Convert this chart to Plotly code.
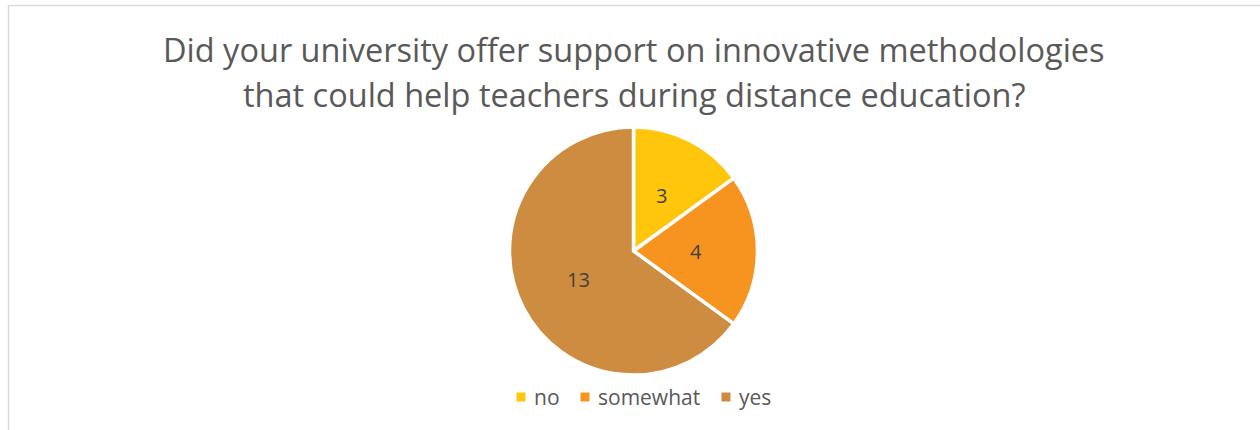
import numpy as np
import plotly.graph_objects as go

# Survey responses
categories = ["no", "somewhat", "yes"]
counts = [3, 4, 13]
slice_colors = ["#FFC60B", "#F7941F", "#CD8C3F"]

title_lines = ["Did your university offer support on innovative methodologies",
               "that could help teachers during distance education?"]

W, H = 1260, 430
cx, cy, r = 633.5, 251, 124          # pie centre / radius in pixels
TEXT = "#595959"
FONT = "Open Sans"


def px(x):
    return x / W


def py(y):
    return 1 - y / H


fig = go.Figure(
    go.Pie(
        labels=categories,
        values=counts,
        sort=False,
        direction="clockwise",
        rotation=0,
        marker=dict(colors=slice_colors, line=dict(color="white", width=3.5)),
        textinfo="none",
        hoverinfo="label+value",
        showlegend=False,
        domain=dict(x=[px(cx - r), px(cx + r)], y=[py(cy + r), py(cy - r)]),
    )
)

annotations = []

# value labels at half radius along each slice's mid-angle
vals = np.array(counts, dtype=float)
ends = np.cumsum(vals) / vals.sum() * 2 * np.pi
mids = ends - vals / vals.sum() * np.pi
for v, a in zip(counts, mids):
    annotations.append(dict(
        x=px(cx + 0.5 * r * np.sin(a)), y=py(cy - 0.5 * r * np.cos(a)),
        xref="paper", yref="paper", text=str(v), showarrow=False,
        xanchor="center", yanchor="middle",
        font=dict(family=FONT, size=20, color="#404040"),
    ))

# two-line title
for i, line in enumerate(title_lines):
    annotations.append(dict(
        x=0.5 + px(4), y=py(49 + 46 * i), xref="paper", yref="paper",
        text=line, showarrow=False, xanchor="center", yanchor="middle",
        font=dict(family=FONT, size=32.5, color=TEXT),
    ))

# legend row: square swatch + label
shapes = []
legend_x = [521, 585, 726]
legend_y = 397
for name, col, lx in zip(categories, slice_colors, legend_x):
    shapes.append(dict(type="rect", xref="paper", yref="paper",
                       x0=px(lx - 4.5), x1=px(lx + 4.5),
                       y0=py(legend_y + 4.5), y1=py(legend_y - 4.5),
                       fillcolor=col, line=dict(width=0)))
    annotations.append(dict(
        x=px(lx + 11), y=py(legend_y), xref="paper", yref="paper",
        text=name, showarrow=False, xanchor="left", yanchor="middle",
        font=dict(family=FONT, size=21, color=TEXT),
    ))

# chart frame (top and left edges)
shapes += [
    dict(type="line", xref="paper", yref="paper",
         x0=px(8.5), x1=1, y0=py(5.5), y1=py(5.5),
         line=dict(color="#D9D9D9", width=1.5)),
    dict(type="line", xref="paper", yref="paper",
         x0=px(8.5), x1=px(8.5), y0=0, y1=py(5.5),
         line=dict(color="#D9D9D9", width=1.5)),
]

fig.update_layout(
    width=W,
    height=H,
    margin=dict(l=0, r=0, t=0, b=0),
    paper_bgcolor="white",
    plot_bgcolor="white",
    showlegend=False,
    annotations=annotations,
    shapes=shapes,
)

fig.write_html("out.html")
